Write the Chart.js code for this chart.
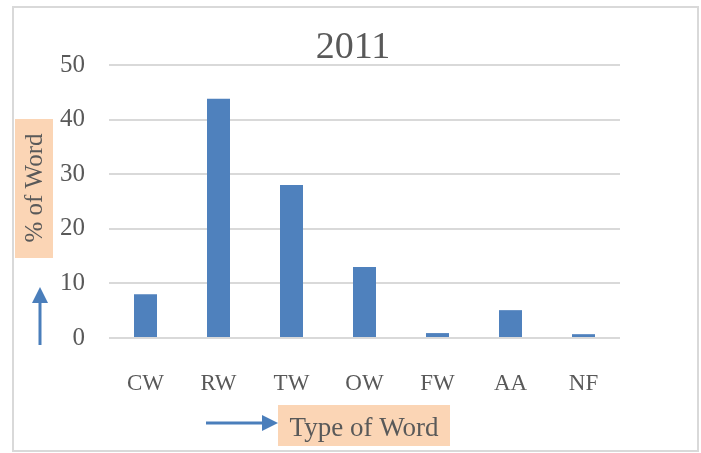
<!DOCTYPE html>
<html>
<head>
<meta charset="utf-8">
<script src="https://cdn.jsdelivr.net/npm/chart.js@4.4.1/dist/chart.umd.min.js"></script>
<style>
  html, body { margin: 0; padding: 0; background: #ffffff; }
  #wrap { position: relative; width: 701px; height: 453px; }
</style>
</head>
<body>
<div id="wrap"><canvas id="chart" width="701" height="453"></canvas></div>
<script>
// data
const categories = ['CW', 'RW', 'TW', 'OW', 'FW', 'AA', 'NF'];
const percentValues = [8, 43.8, 28, 13, 0.9, 5.1, 0.7];
const yTicks = [0, 10, 20, 30, 40, 50];
const chartTitle = '2011';
const yTitle = '% of Word';
const xTitle = 'Type of Word';

const SERIF = '"Liberation Serif", "DejaVu Serif", serif';
const TEXT = '#595959';
const ARROW = '#4a7ebb';
const PEACH = '#fbd5b5';

function arrow(ctx, x1, y1, x2, y2, head, half) {
    const a = Math.atan2(y2 - y1, x2 - x1);
    const bx = x2 - Math.cos(a) * head, by = y2 - Math.sin(a) * head;
    ctx.save();
    ctx.strokeStyle = ARROW; ctx.fillStyle = ARROW; ctx.lineWidth = 3;
    ctx.beginPath(); ctx.moveTo(x1, y1); ctx.lineTo(bx, by); ctx.stroke();
    ctx.beginPath();
    ctx.moveTo(x2, y2);
    ctx.lineTo(bx - Math.sin(a) * half, by + Math.cos(a) * half);
    ctx.lineTo(bx + Math.sin(a) * half, by - Math.cos(a) * half);
    ctx.closePath(); ctx.fill();
    ctx.restore();
}

// border, title, axis captions and arrows
const decorations = {
    id: 'decorations',
    beforeDraw(chart) {
        const ctx = chart.ctx;
        ctx.save();
        ctx.fillStyle = '#ffffff';
        ctx.fillRect(0, 0, chart.width, chart.height);
        ctx.strokeStyle = '#d9d9d9'; ctx.lineWidth = 2;
        ctx.strokeRect(13, 7, 685, 444);
        ctx.restore();
    },
    afterDraw(chart) {
        const ctx = chart.ctx;
        ctx.save();
        ctx.fillStyle = TEXT;
        ctx.font = '38px ' + SERIF;
        ctx.textAlign = 'center'; ctx.textBaseline = 'alphabetic';
        ctx.fillText(chartTitle, 353, 58);

        // y caption
        ctx.fillStyle = PEACH;
        ctx.fillRect(15, 119, 38, 139);
        ctx.save();
        ctx.translate(34, 188);
        ctx.rotate(-Math.PI / 2);
        ctx.fillStyle = TEXT;
        ctx.font = '25px ' + SERIF;
        ctx.textAlign = 'center'; ctx.textBaseline = 'middle';
        ctx.fillText(yTitle, 0, 1);
        ctx.restore();

        // x caption
        ctx.fillStyle = PEACH;
        ctx.fillRect(278, 405, 172, 41);
        ctx.fillStyle = TEXT;
        ctx.font = '27px ' + SERIF;
        ctx.textAlign = 'center'; ctx.textBaseline = 'alphabetic';
        ctx.fillText(xTitle, 364, 436);
        ctx.restore();

        arrow(ctx, 40, 345, 40, 287, 16, 8);
        arrow(ctx, 206, 423, 278, 423, 16, 8);
    }
};

new Chart(document.getElementById('chart'), {
    type: 'bar',
    data: {
        labels: categories,
        datasets: [{
            data: percentValues,
            backgroundColor: '#4f81bd',
            borderWidth: 0,
            categoryPercentage: 1,
            barPercentage: 0.315
        }]
    },
    options: {
        responsive: false,
        animation: false,
        layout: { padding: { top: 65, left: 0, right: 81, bottom: 0 } },
        plugins: { legend: { display: false }, title: { display: false }, tooltip: { enabled: false } },
        scales: {
            x: {
                grid: { display: false },
                border: { display: false },
                ticks: { color: TEXT, font: { family: SERIF, size: 23 }, padding: 24 },
                afterFit(scale) { scale.height = 453 - 338; }
            },
            y: {
                min: 0, max: 50,
                afterBuildTicks(scale) { scale.ticks = yTicks.map(v => ({ value: v })); },
                grid: { color: '#d9d9d9', lineWidth: 2, drawTicks: false },
                border: { display: false },
                ticks: { color: TEXT, font: { family: SERIF, size: 25 }, padding: 24 },
                afterFit(scale) { scale.width = 109; }
            }
        }
    },
    plugins: [decorations]
});
</script>
</body>
</html>
